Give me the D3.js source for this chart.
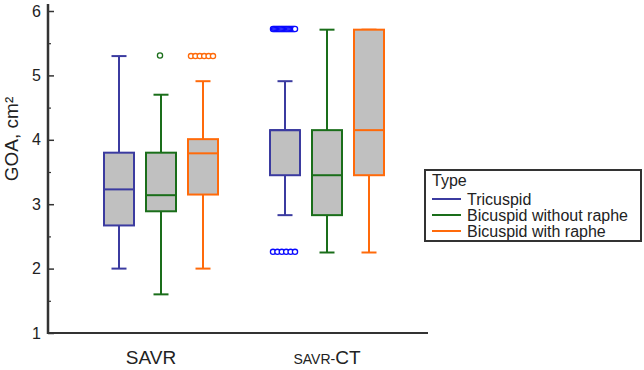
<!DOCTYPE html>
<html>
<head>
<meta charset="utf-8">
<script src="https://cdn.jsdelivr.net/npm/d3@7"></script>
<style>
  body { margin: 0; background: #fff; }
  text { font-family: "Liberation Sans", Arial, sans-serif; fill: #222; }
</style>
</head>
<body>
<div id="chart"></div>
<script>
// groups on the x axis and the three valve types
var categories = ["SAVR", "SAVR-CT"];
var types = ["Tricuspid", "Bicuspid without raphe", "Bicuspid with raphe"];

// box statistics, [category][type]
var whiskerLow  = [[2.00, 1.60, 2.00], [2.83, 2.25, 2.25]];
var q1          = [[2.67, 2.89, 3.15], [3.45, 2.83, 3.45]];
var median      = [[3.23, 3.14, 3.79], [4.15, 3.45, 4.15]];
var q3          = [[3.80, 3.80, 4.01], [4.15, 4.15, 5.71]];
var whiskerHigh = [[5.30, 4.70, 4.91], [4.91, 5.71, 5.71]];

// outliers, [category][type]
var outliersSAVR = [[], [5.31], [5.3, 5.3, 5.3, 5.3, 5.3, 5.3]];
var outliersSAVRCT = [
  [5.72, 5.72, 5.72, 5.72, 5.72, 5.72, 5.72, 5.72, 5.72, 5.72,
   5.72, 5.72, 5.72, 5.72, 5.72, 5.72, 5.72, 5.72, 5.72, 5.72,
   2.26, 2.26, 2.26, 2.26, 2.26, 2.26],
  [], []
];
var outliers = [outliersSAVR, outliersSAVRCT];

var yTicks = [1, 2, 3, 4, 5, 6];
var yMinorTicks = [1.5, 2.5, 3.5, 4.5, 5.5];

var typeColors = ["#3b3ba0", "#1a6e1a", "#ff6a0a"];
var outlierColors = ["#0a0aff", "#1a6e1a", "#ff6a0a"];

var width = 644, height = 370;
var margin = {top: 11, left: 48, bottom: 37, right: 216};

var svg = d3.select("#chart").append("svg")
  .attr("width", width)
  .attr("height", height);

// scales
var y = d3.scaleLinear().domain([1, 6]).range([height - margin.bottom, margin.top]);
var x = d3.scalePoint().domain(categories).range([161, 327]);
var typeX = d3.scaleBand().domain(types).range([-63, 63]);
var boxW = 30, capW = 15;

// y axis, ticks pointing inside
svg.append("g")
  .attr("transform", "translate(" + margin.left + ",0)")
  .call(d3.axisLeft(y).tickValues(yTicks).tickFormat(d3.format("d")).tickSizeInner(-6).tickSizeOuter(0).tickPadding(7))
  .call(function(g){
    g.select(".domain").remove();
    g.selectAll("line").attr("stroke", "#333").attr("stroke-width", 1.5);
    g.selectAll("text").style("font-size", "16px").attr("fill", "#222")
      .style("font-family", "Liberation Sans, Arial, sans-serif");
  });

// minor ticks
svg.append("g")
  .attr("transform", "translate(" + margin.left + ",0)")
  .call(d3.axisLeft(y).tickValues(yMinorTicks).tickSizeInner(-3).tickSizeOuter(0).tickFormat(""))
  .call(function(g){
    g.select(".domain").remove();
    g.selectAll("line").attr("stroke", "#333").attr("stroke-width", 1.2);
  });

// axis lines
svg.append("line")
  .attr("x1", margin.left).attr("x2", margin.left)
  .attr("y1", y(6) - 7).attr("y2", y(1) + 1)
  .attr("stroke", "#333").attr("stroke-width", 2.5);
svg.append("line")
  .attr("x1", margin.left).attr("x2", 428)
  .attr("y1", y(1)).attr("y2", y(1))
  .attr("stroke", "#333").attr("stroke-width", 2);

// y axis title
svg.append("text")
  .attr("transform", "translate(18," + 139 + ") rotate(-90)")
  .attr("text-anchor", "middle")
  .style("font-size", "19px")
  .text("GOA, cm\u00B2");

// boxes
var boxes = [];
categories.forEach(function(cat, ci){
  types.forEach(function(t, ti){
    boxes.push({cat: cat, type: t, ci: ci, ti: ti, cx: x(cat) + typeX(t) + typeX.bandwidth() / 2});
  });
});

var bg = svg.selectAll(".box").data(boxes).enter().append("g").attr("class", "box");

// whisker stems
bg.append("line")
  .attr("x1", function(d){ return d.cx; }).attr("x2", function(d){ return d.cx; })
  .attr("y1", function(d){ return y(whiskerLow[d.ci][d.ti]); })
  .attr("y2", function(d){ return y(whiskerHigh[d.ci][d.ti]); })
  .attr("stroke", function(d){ return typeColors[d.ti]; }).attr("stroke-width", 2);

// whisker caps
["low", "high"].forEach(function(end){
  bg.append("line")
    .attr("x1", function(d){ return d.cx - capW / 2; }).attr("x2", function(d){ return d.cx + capW / 2; })
    .attr("y1", function(d){ return y(end == "low" ? whiskerLow[d.ci][d.ti] : whiskerHigh[d.ci][d.ti]); })
    .attr("y2", function(d){ return y(end == "low" ? whiskerLow[d.ci][d.ti] : whiskerHigh[d.ci][d.ti]); })
    .attr("stroke", function(d){ return typeColors[d.ti]; }).attr("stroke-width", 2);
});

// box body
bg.append("rect")
  .attr("x", function(d){ return d.cx - boxW / 2; })
  .attr("width", boxW)
  .attr("y", function(d){ return y(q3[d.ci][d.ti]); })
  .attr("height", function(d){ return y(q1[d.ci][d.ti]) - y(q3[d.ci][d.ti]); })
  .attr("fill", "#c0c0c0")
  .attr("stroke", function(d){ return typeColors[d.ti]; }).attr("stroke-width", 2);

// median
bg.append("line")
  .attr("x1", function(d){ return d.cx - boxW / 2; }).attr("x2", function(d){ return d.cx + boxW / 2; })
  .attr("y1", function(d){ return y(median[d.ci][d.ti]); })
  .attr("y2", function(d){ return y(median[d.ci][d.ti]); })
  .attr("stroke", function(d){ return typeColors[d.ti]; }).attr("stroke-width", 2);

// outliers, spread sideways within each value group
var outPoints = [];
boxes.forEach(function(b){
  var vals = outliers[b.ci][b.ti];
  var groups = d3.group(vals, function(v){ return v; });
  groups.forEach(function(list, v){
    var n = list.length;
    var step = n > 1 ? Math.min(4.4, 22 / (n - 1)) : 0;
    list.forEach(function(val, i){
      outPoints.push({x: b.cx - 1 + (i - (n - 1) / 2) * step, v: val, ti: b.ti});
    });
  });
});

svg.selectAll(".outlier").data(outPoints).enter().append("circle")
  .attr("class", "outlier")
  .attr("cx", function(d){ return d.x; })
  .attr("cy", function(d){ return y(d.v); })
  .attr("r", 2.6)
  .attr("fill", "#fff")
  .attr("stroke", function(d){ return outlierColors[d.ti]; })
  .attr("stroke-width", 1.3);

// category labels
var labelShift = [-10, 0];
svg.append("text")
  .attr("x", x("SAVR") + labelShift[0]).attr("y", 364)
  .attr("text-anchor", "middle")
  .style("font-size", "19px")
  .text("SAVR");
var ct = svg.append("text")
  .attr("x", x("SAVR-CT") + labelShift[1]).attr("y", 364)
  .attr("text-anchor", "middle");
ct.append("tspan").style("font-size", "14px").text("SAVR-");
ct.append("tspan").style("font-size", "19px").text("CT");

// legend
var legend = svg.append("g").attr("transform", "translate(425,170)");
legend.append("rect")
  .attr("width", 216).attr("height", 71)
  .attr("fill", "#fff").attr("stroke", "#333").attr("stroke-width", 2);
legend.append("text").attr("x", 7).attr("y", 16).style("font-size", "16px").text("Type");
types.forEach(function(t, i){
  var ly = 29 + i * 16;
  legend.append("line")
    .attr("x1", 7).attr("x2", 36).attr("y1", ly).attr("y2", ly)
    .attr("stroke", typeColors[i]).attr("stroke-width", 2);
  legend.append("text")
    .attr("x", 42).attr("y", ly + 5.5)
    .style("font-size", "16px")
    .text(t);
});
</script>
</body>
</html>
